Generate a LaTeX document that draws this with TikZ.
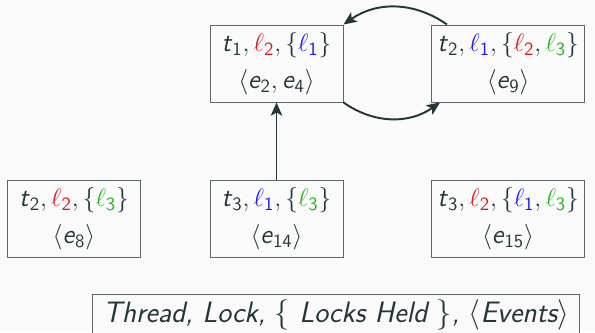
\documentclass[tikz,border=0pt]{standalone}
\usepackage{xcolor}
\usepackage{amsmath}
\usepackage{tikz}
\usetikzlibrary{arrows.meta, positioning}
\definecolor{mybg}{RGB}{250,250,250}
\definecolor{mydark}{RGB}{35,55,59}
\definecolor{myframe}{RGB}{92,102,103}
\definecolor{lkred}{RGB}{214,28,30}
\definecolor{lkblue}{RGB}{28,28,250}
\definecolor{lkgreen}{RGB}{34,184,34}
\newcommand{\sv}[1]{\textsf{\textsl{#1}}}
\newcommand{\thr}[1]{\sv{t}_{\textsf{#1}}}
\newcommand{\lck}[2]{\textcolor{#1}{\ell_{\textsf{#2}}}}
\newcommand{\evt}[1]{\sv{e}_{\textsf{#1}}}
\tikzset{
  lockbox/.style={rectangle, draw=myframe, fill=mybg, text=mydark,
    minimum width=2.66cm, minimum height=1.54cm, align=center,
    font=\fontsize{15.2}{21}\selectfont, line width=0.55pt},
  keybox/.style={rectangle, draw=myframe, fill=mybg, text=mydark,
    minimum width=9.74cm, minimum height=0.8cm,
    font=\fontsize{16.8}{19}\selectfont\sffamily\slshape, line width=0.55pt},
  arrow/.style={-{Stealth[length=7.5pt, width=6.5pt, inset=1.8pt]}, line width=1.1pt, color=mydark}
}

\begin{document}
\begin{tikzpicture}
  \useasboundingbox[fill=mybg] (0,0) rectangle (11.9,6.64);

  % Cycle between the two top states
  \node[lockbox] (cycA) at (5.53, 5.37) {
    $\thr{1}, \lck{lkred}{2}, \{\lck{lkblue}{1}\}$\\
    $\langle \evt{2}, \evt{4} \rangle$
  };
  \node[lockbox, anchor=west] (cycB) at (8.62, 5.37) {
    $\thr{2}, \lck{lkblue}{1}, \{\lck{lkred}{2}, \lck{lkgreen}{3}\}$\\
    $\langle \evt{9} \rangle$
  };

  % Bottom row
  \node[lockbox] (leftB) at (1.48, 2.27) {
    $\thr{2}, \lck{lkred}{2}, \{\lck{lkgreen}{3}\}$\\
    $\langle \evt{8} \rangle$
  };
  \node[lockbox] (midB) at (5.53, 2.27) {
    $\thr{3}, \lck{lkblue}{1}, \{\lck{lkgreen}{3}\}$\\
    $\langle \evt{14} \rangle$
  };
  \node[lockbox, anchor=west] (rightB) at (8.62, 2.27) {
    $\thr{3}, \lck{lkred}{2}, \{\lck{lkblue}{1}, \lck{lkgreen}{3}\}$\\
    $\langle \evt{15} \rangle$
  };

  % Key
  \node[keybox, anchor=north west] (legend) at (1.84, 0.77) {Thread, Lock, $\{$ Locks Held $\}$, $\langle$Events$\rangle$};

  % Edges
  \draw[arrow] (midB.north) -- (cycA.south);
  \draw[arrow] ([xshift=0.32cm]cycB.north west) to[bend right=35] (cycA.north east);
  \draw[arrow] (cycA.south east) to[bend right=35] ([xshift=0.18cm]cycB.south west);
\end{tikzpicture}
\end{document}
